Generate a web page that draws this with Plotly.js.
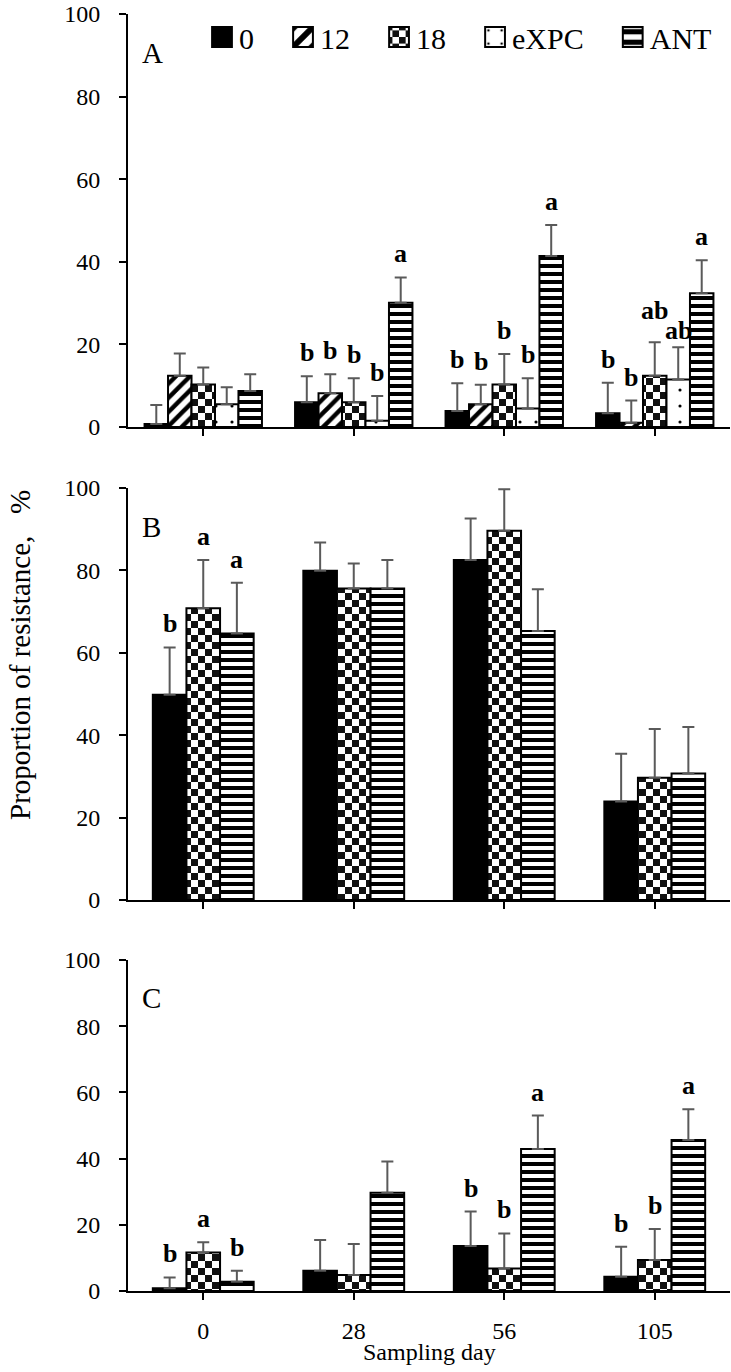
<!DOCTYPE html>
<html>
<head>
<meta charset="utf-8">
<script src="https://cdn.plot.ly/plotly-3.0.1.min.js"></script>
<style>html,body{margin:0;padding:0;background:#fff;}#chart{width:731px;height:1372px;}</style>
</head>
<body>
<div id="chart"></div>
<script>
// ---------- DATA ----------
const categories = ['0', '28', '56', '105'];

// Panel A (five treatments)
const A_0      = [0.7, 6.0, 3.9, 3.3];
const A_0_err  = [4.6, 6.3, 6.7, 7.4];
const A_0_let  = ['', 'b', 'b', 'b'];
const A_12     = [12.4, 8.2, 5.5, 1.0];
const A_12_err = [5.4, 4.6, 4.7, 5.4];
const A_12_let = ['', 'b', 'b', 'b'];
const A_18     = [10.3, 6.0, 10.3, 12.4];
const A_18_err = [4.1, 5.8, 7.4, 8.1];
const A_18_let = ['', 'b', 'b', 'ab'];
const A_X      = [5.5, 1.5, 4.5, 11.5];
const A_X_err  = [4.1, 6.0, 7.3, 7.8];
const A_X_let  = ['', 'b', 'b', 'ab'];
const A_ANT     = [8.7, 30.1, 41.4, 32.4];
const A_ANT_err = [4.1, 6.1, 7.5, 8.0];
const A_ANT_let = ['', 'a', 'a', 'a'];

// Panel B (0, 18, ANT)
const B_0       = [49.8, 79.9, 82.5, 23.9];
const B_0_err   = [11.5, 6.9, 10.1, 11.6];
const B_0_let   = ['b', '', '', ''];
const B_18      = [70.8, 75.6, 89.6, 29.7];
const B_18_err  = [11.7, 6.1, 10.1, 11.8];
const B_18_let  = ['a', '', '', ''];
const B_ANT     = [64.7, 75.6, 65.3, 30.7];
const B_ANT_err = [12.3, 6.9, 10.1, 11.3];
const B_ANT_let = ['a', '', '', ''];

// Panel C (0, 18, ANT)
const C_0       = [0.8, 6.1, 13.6, 4.3];
const C_0_err   = [3.3, 9.3, 10.4, 9.1];
const C_0_let   = ['b', '', 'b', 'b'];
const C_18      = [11.6, 4.8, 6.8, 9.4];
const C_18_err  = [3.1, 9.4, 10.6, 9.3];
const C_18_let  = ['a', '', 'b', 'b'];
const C_ANT     = [2.8, 29.7, 42.9, 45.6];
const C_ANT_err = [3.3, 9.4, 10.1, 9.3];
const C_ANT_let = ['b', '', 'a', 'a'];

const seriesNames = ['0', '12', '18', 'eXPC', 'ANT'];
const panelLabels = ['A', 'B', 'C'];
const yTitle = 'Proportion of resistance,\u00A0\u00A0\u00A0%';
const xTitle = 'Sampling day';

// ---------- STYLE ----------
const FONT = 'Liberation Serif, Times New Roman, serif';
const styles = {
  '0':    {color: 'black', pattern: null},
  '12':   {color: 'white', pattern: {shape: '/', size: 10, solidity: 0.45, fgcolor: 'black', bgcolor: 'white', fillmode: 'replace'}},
  '18':   {color: 'white', pattern: {shape: '+', size: 14, solidity: 0.5, fgcolor: 'black', bgcolor: '#fefefe', fillmode: 'replace'}},
  'eXPC': {color: 'white', pattern: {shape: '.', size: 16, solidity: 0.03, fgcolor: 'black', bgcolor: 'white', fillmode: 'replace'}},
  'ANT':  {color: 'white', pattern: {shape: '-', size: 8, solidity: 0.5, fgcolor: 'black', bgcolor: 'white', fillmode: 'replace'}}
};

const panels = [
  {series: [['0', A_0, A_0_err, A_0_let], ['12', A_12, A_12_err, A_12_let], ['18', A_18, A_18_err, A_18_let], ['eXPC', A_X, A_X_err, A_X_let], ['ANT', A_ANT, A_ANT_err, A_ANT_let]], gap: 0.22},
  {series: [['0', B_0, B_0_err, B_0_let], ['18', B_18, B_18_err, B_18_let], ['ANT', B_ANT, B_ANT_err, B_ANT_let]], gap: 0.33},
  {series: [['0', C_0, C_0_err, C_0_let], ['18', C_18, C_18_err, C_18_let], ['ANT', C_ANT, C_ANT_err, C_ANT_let]], gap: 0.33}
];

// layout geometry (pixels)
const W = 731, H = 1372;
const mL = 128, mR = 1, mT = 14, mB = 81;
const plotH = H - mT - mB;
const pxToPaperY = p => (H - mB - p) / plotH;
const pxToPaperX = p => (p - mL) / (W - mL - mR);
const domains = [
  [pxToPaperY(427), pxToPaperY(14)],
  [pxToPaperY(900), pxToPaperY(488)],
  [pxToPaperY(1291), pxToPaperY(960)]
];

const traces = [];
const annotations = [];
// label nudges (pixels) for the crowded "ab" pair in panel A, day 105
const nudges = {'0|18|3': 8, '0|eXPC|3': -7};
const legendPad = '\u00A0\u00A0\u2009';

panels.forEach((panel, pi) => {
  const n = panel.series.length;
  const gw = 1 - panel.gap;
  const bw = gw / n;
  const xa = pi === 0 ? 'x' : 'x' + (pi + 1);
  const ya = pi === 0 ? 'y' : 'y' + (pi + 1);
  panel.series.forEach((s, si) => {
    const [name, vals, errs, lets] = s;
    const st = styles[name];
    const off = -gw / 2 + si * bw;
    const marker = {color: st.color, line: {color: 'black', width: 2}};
    if (st.pattern) marker.pattern = st.pattern;
    traces.push({
      type: 'bar', x: categories, y: vals, name: name + (si < n - 1 ? legendPad : ''),
      xaxis: xa, yaxis: ya, width: bw, offset: off,
      marker: marker, showlegend: pi === 0, legendrank: si,
      error_y: {type: 'data', array: errs, arrayminus: errs.map(() => 0), symmetric: false,
                color: '#5a5a5a', thickness: 2, width: 6},
      hoverinfo: 'skip'
    });
    lets.forEach((l, ci) => {
      if (!l) return;
      const key = pi + '|' + name + '|' + ci;
      annotations.push({
        xref: xa, yref: ya, x: ci + off + bw / 2, y: vals[ci] + errs[ci],
        xanchor: 'center', yanchor: 'bottom', yshift: 7 + (nudges[key] || 0),
        text: '<b>' + l + '</b>', showarrow: false,
        font: {family: FONT, size: 26, color: 'black'}
      });
    });
  });
  annotations.push({
    xref: xa + ' domain', yref: ya + ' domain', x: 0.02, y: [0.905, 0.905, 0.885][pi],
    xanchor: 'left', yanchor: 'middle', text: panelLabels[pi], showarrow: false,
    font: {family: FONT, size: 29, color: 'black'}
  });
});

annotations.push({
  xref: 'paper', yref: 'paper', x: pxToPaperX(20), y: pxToPaperY(655),
  xanchor: 'center', yanchor: 'middle', textangle: -90, text: yTitle, showarrow: false,
  font: {family: FONT, size: 29, color: 'black'}
});
annotations.push({
  xref: 'paper', yref: 'paper', x: 0.5, y: pxToPaperY(1352),
  xanchor: 'center', yanchor: 'middle', text: xTitle, showarrow: false,
  font: {family: FONT, size: 24, color: 'black'}
});

function yax(dom, anchor) {
  return {domain: dom, anchor: anchor, range: [0, 100], dtick: 20, tick0: 0,
    showline: true, linecolor: 'black', linewidth: 2, ticks: 'outside', ticklen: 7, tickwidth: 2,
    tickcolor: 'black', showgrid: false, zeroline: false, ticklabelstandoff: 14,
    tickfont: {family: FONT, size: 24, color: 'black'}, fixedrange: true};
}
function xax(anchor, labels) {
  return {domain: [0, 1], anchor: anchor, type: 'category', categoryorder: 'array', categoryarray: categories,
    range: [-0.5, 3.5], showline: true, linecolor: 'black', linewidth: 2, ticks: 'outside', ticklen: 7,
    tickwidth: 2, tickcolor: 'black', showgrid: false, zeroline: false, showticklabels: labels,
    ticklabelstandoff: 10, tickfont: {family: FONT, size: 24, color: 'black'}, fixedrange: true};
}

const layout = {
  width: W, height: H, margin: {l: mL, r: mR, t: mT, b: mB, pad: 0},
  paper_bgcolor: 'white', plot_bgcolor: 'white', barmode: 'overlay',
  font: {family: FONT, color: 'black'},
  xaxis: xax('y', false), yaxis: yax(domains[0], 'x'),
  xaxis2: xax('y2', false), yaxis2: yax(domains[1], 'x2'),
  xaxis3: xax('y3', true), yaxis3: yax(domains[2], 'x3'),
  showlegend: true,
  legend: {orientation: 'h', x: pxToPaperX(717), xanchor: 'right', y: pxToPaperY(37), yanchor: 'middle',
    bgcolor: 'rgba(0,0,0,0)', font: {family: FONT, size: 30, color: 'black'}, traceorder: 'normal'},
  annotations: annotations
};

function postProcess() {
  const ns = 'http://www.w3.org/2000/svg';
  document.querySelectorAll('pattern').forEach(p => {
    const r = p.querySelector('rect');
    if (!r) return;
    const f = ((r.getAttribute('fill') || '') + (r.style.fill || '')).replace(/\s/g, '').toLowerCase();
    if (f.indexOf('254,254,254') < 0 && f.indexOf('fefefe') < 0) return;
    const s = parseFloat(p.getAttribute('width'));
    const h = s / 2;
    while (p.firstChild) p.removeChild(p.firstChild);
    [[0, 0, s, s, '#ffffff'], [0, 0, h, h, '#111111'], [h, h, h, h, '#111111']].forEach(a => {
      const e = document.createElementNS(ns, 'rect');
      e.setAttribute('x', a[0]); e.setAttribute('y', a[1]);
      e.setAttribute('width', a[2]); e.setAttribute('height', a[3]);
      e.setAttribute('fill', a[4]);
      p.appendChild(e);
    });
  });
  document.querySelectorAll('.legend .legendpoints path').forEach(p => {
    const t = p.getAttribute('transform') || '';
    p.setAttribute('transform', t + ' translate(3,0) scale(1.65)');
    p.style.vectorEffect = 'non-scaling-stroke';
  });
}

Plotly.newPlot('chart', traces, layout, {staticPlot: true, displayModeBar: false}).then(postProcess);
</script>
</body>
</html>
